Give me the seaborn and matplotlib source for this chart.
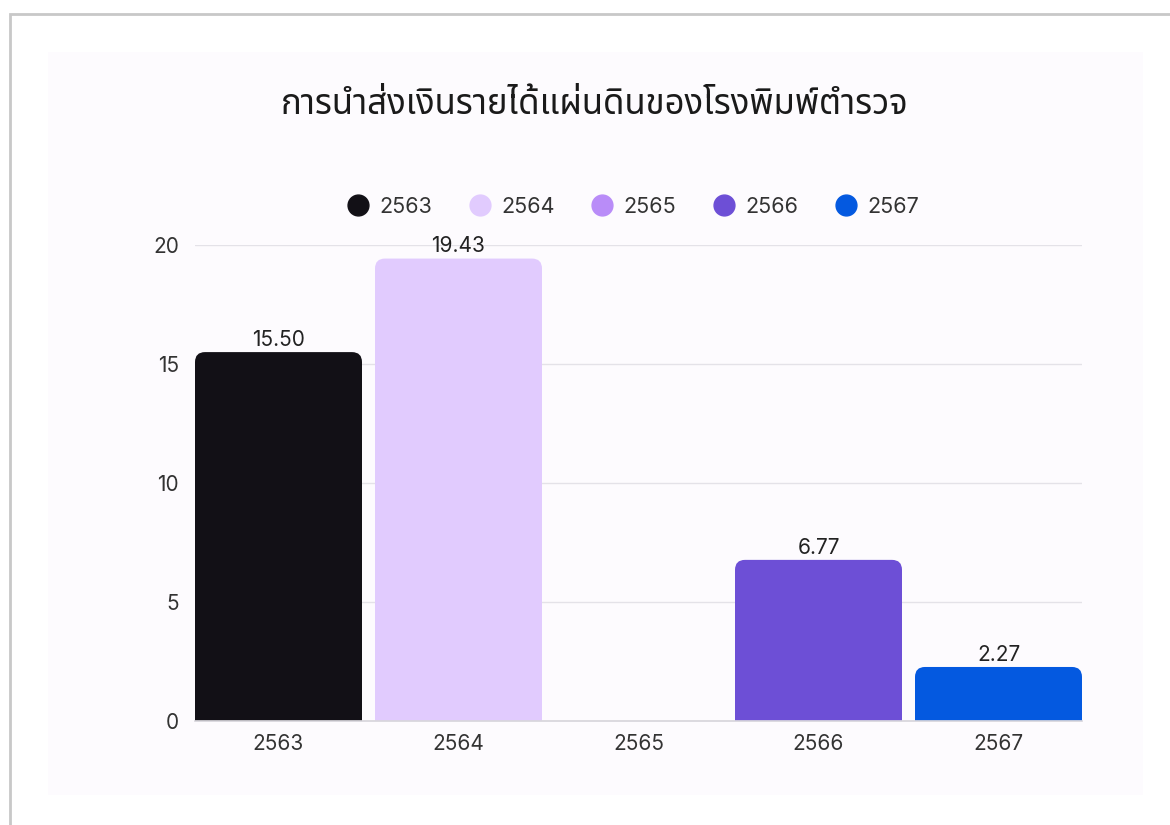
import matplotlib
matplotlib.use("Agg")
import matplotlib.pyplot as plt
from matplotlib import font_manager
from matplotlib.patches import PathPatch, Rectangle
from matplotlib.path import Path
from matplotlib.lines import Line2D
from matplotlib.ft2font import FT2Font
import seaborn as sns
import pandas as pd

title = "การนำส่งเงินรายได้แผ่นดินของโรงพิมพ์ตำรวจ"
years = ["2563", "2564", "2565", "2566", "2567"]
values = [15.50, 19.43, 0.0, 6.77, 2.27]
colors = ["#121016", "#e1cbfe", "#b98cf8", "#6d4fd6", "#0459e0"]
yticks = [0, 5, 10, 15, 20]

# find a font with Thai glyphs
thai_font = None
names = []
for f in font_manager.fontManager.ttflist:
    try:
        cm = FT2Font(f.fname).get_charmap()
        if 0x0E01 in cm and 0x0E33 in cm:
            names.append(f.name)
    except Exception:
        pass
pref = ["Noto Sans Thai", "Noto Sans Thai UI", "Noto Sans", "Loma", "Garuda", "Kinnari"]
for p in pref:
    if p in names:
        thai_font = p
        break
if thai_font is None and names:
    thai_font = names[0]

sns.set_theme(style="white")
fam = ([thai_font] if thai_font else []) + ["DejaVu Sans"]
plt.rcParams["font.family"] = ["Inter", "DejaVu Sans"]

df = pd.DataFrame({"year": years, "value": values})

fig = plt.figure(figsize=(11.7, 8.25), dpi=100)
fig.patch.set_facecolor("white")
# screenshot card border and inner panel
fig.patches.append(Rectangle((10/1170, -0.1), 1.2, 1 - 14/825 + 0.1, transform=fig.transFigure,
                             facecolor="white", edgecolor="#c8c8c8", linewidth=2.0, zorder=-20))
fig.patches.append(Rectangle((48/1170, 1 - 795/825), (1143-48)/1170, (795-52)/825,
                             transform=fig.transFigure, facecolor="#fdfbfe", edgecolor="none",
                             zorder=-10))

ax_l, ax_r, ax_b, ax_t = 195, 1082, 721, 245
ax = fig.add_axes([ax_l/1170, 1 - ax_b/825, (ax_r-ax_l)/1170, (ax_b-ax_t)/825])
ax.set_facecolor("none")
bw = 167/180
sns.barplot(data=df, x="year", y="value", hue="year", palette=colors, order=years,
            hue_order=years, width=bw, legend=False, ax=ax, saturation=1)
ax.set_xlim(-bw/2, len(years) - 1 + bw/2)
ax.set_ylim(0, 20)

# rounded top corners
px_x = (ax_r-ax_l) / (len(years) - 1 + bw)
px_y = (ax_b-ax_t) / 20
r_px = 10
rx, ry = r_px/px_x, r_px/px_y
for p, v in zip(list(ax.patches), values):
    x, w, h = p.get_x(), p.get_width(), p.get_height()
    fc = p.get_facecolor()
    p.remove()
    if h <= 0:
        continue
    verts = [(x, 0), (x, h-ry), (x, h), (x+rx, h), (x+w-rx, h), (x+w, h), (x+w, h-ry),
             (x+w, 0), (x, 0)]
    codes = [Path.MOVETO, Path.LINETO, Path.CURVE3, Path.CURVE3, Path.LINETO,
             Path.CURVE3, Path.CURVE3, Path.LINETO, Path.CLOSEPOLY]
    ax.add_patch(PathPatch(Path(verts, codes), facecolor=fc, edgecolor="none", zorder=2))
    ax.annotate(f"{v:.2f}", (x + w/2, h), xytext=(0, 1.5), textcoords="offset points",
                ha="center", va="bottom", fontsize=15, color="#222222",
                annotation_clip=False, zorder=3)

ax.set_yticks(yticks)
ax.yaxis.grid(True, color="#e4e2e8", linewidth=1)
ax.set_axisbelow(True)
for s in ["top", "right", "left"]:
    ax.spines[s].set_visible(False)
ax.spines["bottom"].set_color("#d8d6dc")
ax.tick_params(axis="both", length=0, labelsize=15, labelcolor="#333333")
ax.tick_params(axis="y", pad=11.5)
ax.tick_params(axis="x", pad=9)
ax.set_xlabel("")
ax.set_ylabel("")

handles = [Line2D([0], [0], marker="o", linestyle="", markersize=15,
                  markerfacecolor=c, markeredgecolor=c) for c in colors]
fig.legend(handles, years, loc="center", bbox_to_anchor=(633/1170, 1 - 207/825), ncol=5,
           frameon=False, fontsize=15.5, handlelength=1.0, handletextpad=0.5,
           columnspacing=1.7, labelcolor="#333333")

fig.text(595/1170, 1 - 105/825, title, ha="center", va="center", fontsize=25,
         color="#1a1a1a", family=fam)

fig.savefig("out.png", dpi=100, facecolor=fig.get_facecolor())
